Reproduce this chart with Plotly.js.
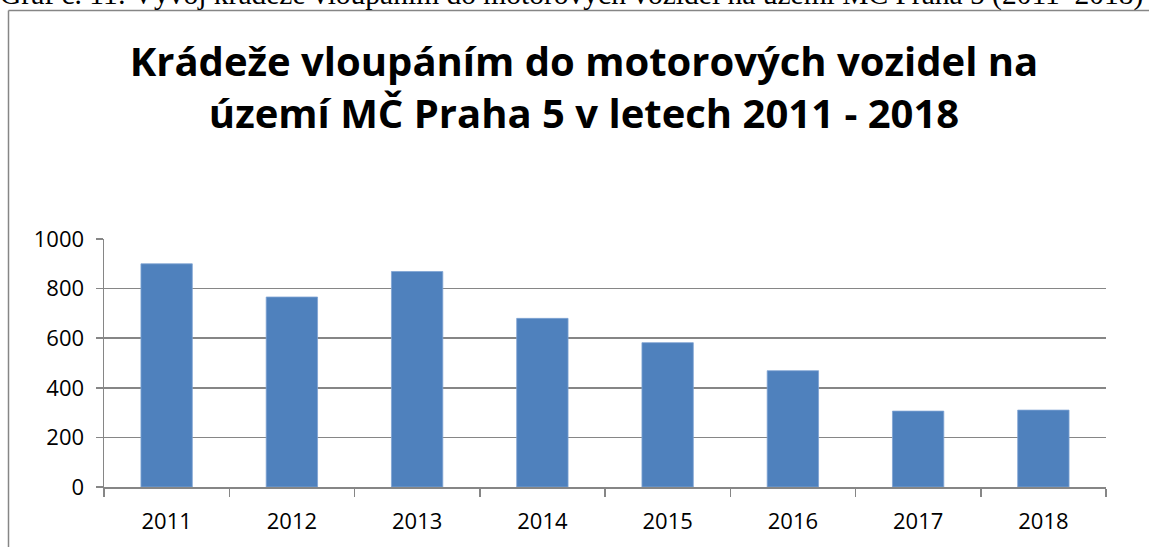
<!DOCTYPE html>
<html>
<head>
<meta charset="utf-8">
<script src="https://cdn.plot.ly/plotly-3.0.1.min.js"></script>
<style>
html,body{margin:0;padding:0;background:#fff;}
#chart{width:1149px;height:547px;}
</style>
</head>
<body>
<div id="chart"></div>
<script>
const years = ["2011","2012","2013","2014","2015","2016","2017","2018"];
const thefts = [900, 766, 869, 680, 582, 469, 306, 310];
const yTicks = [0, 200, 400, 600, 800, 1000];
const chartTitle = "Krádeže vloupáním do motorových vozidel na<br>území MČ Praha 5 v letech 2011 - 2018";
const caption = "Graf č. 11: Vývoj krádeže vloupáním do motorových vozidel na území MČ Praha 5 (2011–2018)";

const W = 1149, H = 547;
const margin = {l: 104, r: 43, t: 239, b: 60};
const pw = W - margin.l - margin.r, ph = H - margin.t - margin.b;
const px2x = p => (p - margin.l) / pw;
const py2y = p => (H - margin.b - p) / ph;

const gray = "#868686";
const trace = {
  type: "bar",
  x: years,
  y: thefts,
  marker: {color: "#4F81BD", line: {color: "#7fa3d3", width: 0.8}},
  hoverinfo: "x+y"
};

const layout = {
  width: W, height: H,
  margin: margin,
  paper_bgcolor: "#fff",
  plot_bgcolor: "#fff",
  showlegend: false,
  bargap: 0.59,
  font: {family: "'Open Sans', Lato, sans-serif", color: "#000"},
  title: {
    text: chartTitle,
    font: {family: "'Open Sans', Lato, sans-serif", size: 40, weight: 700, color: "#000"},
    x: px2x(584), xref: "paper", xanchor: "center",
    y: 1 - 76/H, yref: "container", yanchor: "top"
  },
  xaxis: {
    type: "category",
    tickson: "boundaries",
    ticks: "outside", ticklen: 8, tickcolor: gray, tickwidth: 1.5,
    showline: true, linecolor: gray, linewidth: 1.5,
    showgrid: false,
    tickfont: {size: 22, color: "#000"},
    ticklabelstandoff: 14,
    fixedrange: true
  },
  yaxis: {
    range: [0, 1000],
    tickvals: yTicks,
    ticks: "outside", ticklen: 7, tickcolor: gray, tickwidth: 1.5,
    showline: true, linecolor: gray, linewidth: 1.5,
    showgrid: true, gridcolor: gray, gridwidth: 1.5,
    zeroline: false,
    tickfont: {size: 22, color: "#000"},
    ticklabelstandoff: 7,
    fixedrange: true
  },
  shapes: [
    {type: "line", xref: "paper", yref: "paper", x0: px2x(8.5), x1: px2x(1160), y0: py2y(10.5), y1: py2y(10.5), line: {color: gray, width: 1.5}},
    {type: "line", xref: "paper", yref: "paper", x0: px2x(8.5), x1: px2x(8.5), y0: py2y(10.5), y1: py2y(560), line: {color: gray, width: 1.5}}
  ],
  annotations: [
    {text: caption, xref: "paper", yref: "paper", x: px2x(-2), xanchor: "left", y: py2y(13), yanchor: "bottom",
     showarrow: false, font: {family: "'Liberation Serif', 'Times New Roman', serif", size: 29.5, color: "#000"}}
  ]
};

Plotly.newPlot("chart", [trace], layout, {displayModeBar: false, staticPlot: true});
</script>
</body>
</html>
